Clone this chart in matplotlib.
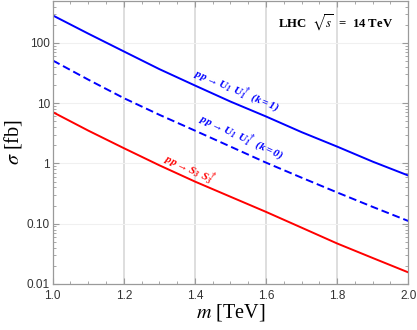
import matplotlib
matplotlib.use("Agg")
import matplotlib.pyplot as plt
from matplotlib.ticker import FixedLocator, LogLocator, NullFormatter, FixedFormatter

# cross sections [fb]
m = [1.0, 1.1, 1.2, 1.3, 1.4, 1.5, 1.6, 1.7, 1.8, 1.9, 2.0]
sigma_u1_k1 = [285, 142, 72, 36.6, 19.6, 10.6, 6.0, 3.3, 1.9, 1.07, 0.63]
sigma_u1_k0 = [51, 24.5, 12.1, 6.4, 3.5, 1.9, 1.03, 0.58, 0.33, 0.19, 0.111]
sigma_s3 = [7.1, 3.5, 1.79, 0.93, 0.50, 0.28, 0.157, 0.086, 0.047, 0.027, 0.0156]

yticks = [0.01, 0.1, 1, 10, 100]
ylabels = ["0.01", "0.10", "1", "10", "100"]
xticks = [1.0, 1.2, 1.4, 1.6, 1.8, 2.0]

plt.rcParams["mathtext.fontset"] = "custom"
plt.rcParams["mathtext.rm"] = "Liberation Serif:bold:italic"
plt.rcParams["mathtext.it"] = "Liberation Serif:bold:italic"
plt.rcParams["mathtext.bf"] = "Liberation Serif:bold:italic"

fig = plt.figure(figsize=(4.17, 3.30), dpi=100)
ax = fig.add_axes([0.1264, 0.1394, 0.8526, 0.8586])

ax.plot(m, sigma_u1_k1, color="#0000ff", lw=1.4)
ax.plot(m, sigma_u1_k0, color="#0000ff", lw=1.4, dashes=(4, 2))
ax.plot(m, sigma_s3, color="#ff0000", lw=1.4)

ax.set_yscale("log")
ax.set_xlim(1.0, 2.0)
ax.set_ylim(0.01, 500)

ax.yaxis.set_major_locator(FixedLocator(yticks))
ax.yaxis.set_major_formatter(FixedFormatter(ylabels))
ax.yaxis.set_minor_locator(LogLocator(base=10, subs=range(2, 10)))
ax.yaxis.set_minor_formatter(NullFormatter())
ax.set_xticks(xticks)
ax.set_xticklabels(["%.1f" % x for x in xticks])
ax.set_xticks([1.0 + 0.05 * i for i in range(21)], minor=True)

for v in [1.2, 1.4, 1.6, 1.8]:
    ax.axvline(v, color="#d4d4d4", lw=1.1, zorder=0)
for v in yticks[1:]:
    ax.axhline(v, color="#f0f0f0", lw=0.8, zorder=0)

for s in ax.spines.values():
    s.set_color("#9a9a9a")
    s.set_linewidth(0.9)
ax.tick_params(which="both", direction="in", top=True, right=True, color="#9a9a9a")
ax.tick_params(which="major", length=4, labelsize=8.5)
ax.tick_params(axis="x", which="major", pad=4)
ax.tick_params(axis="y", which="major", pad=2)
ax.tick_params(which="minor", length=2)
for lab in ax.get_xticklabels() + ax.get_yticklabels():
    lab.set_family("Liberation Sans")
    lab.set_color("#333333")

ax.set_xlabel(r"$m$ [TeV]", fontsize=14.5, family="Liberation Serif",
              math_fontfamily="stix", labelpad=0)
ax.set_ylabel(r"$\sigma$ [fb]", fontsize=14.5, family="Liberation Serif",
              math_fontfamily="stix", labelpad=2)

ax.text(1.518, 16.4, r"$pp \rightarrow U_1\;\, U_1^\dagger\;\, (k=1)$", color="#0000ff",
        fontsize=8, rotation=-23, ha="center", va="center",
        math_fontfamily="custom", rotation_mode="anchor")
ax.text(1.53, 2.73, r"$pp \rightarrow U_1\;\, U_1^\dagger\;\, (k=0)$", color="#0000ff",
        fontsize=8, rotation=-25, ha="center", va="center",
        math_fontfamily="custom", rotation_mode="anchor")
ax.text(1.386, 0.80, r"$pp \rightarrow S_3\;\, S_3^\dagger$", color="#ff0000",
        fontsize=8, rotation=-25, ha="center", va="center",
        math_fontfamily="custom", rotation_mode="anchor")

ax.text(0.795, 0.923, r"LHC  $\sqrt{s}$  =  14 TeV", transform=ax.transAxes,
        fontsize=9.2, family="Liberation Serif", fontweight="bold",
        math_fontfamily="stix", ha="center", va="center")

fig.savefig("out.png", dpi=100)
